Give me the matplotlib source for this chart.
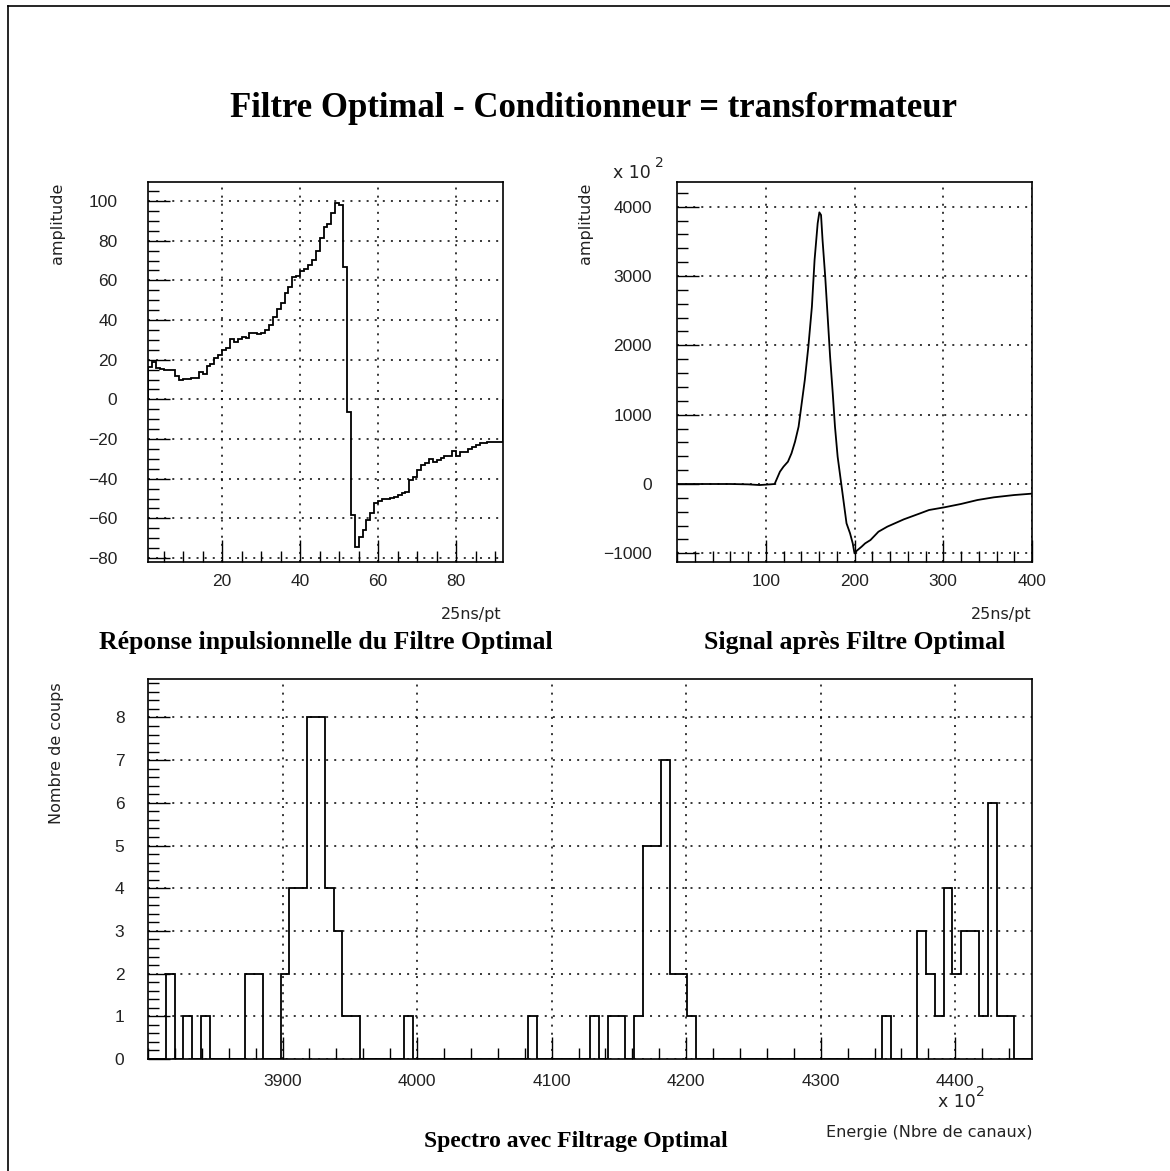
import numpy as np
import matplotlib.pyplot as plt
from matplotlib.ticker import MultipleLocator, FixedLocator
from matplotlib.lines import Line2D

# Reponse impulsionnelle : 91 canaux de 1 a 92
rep_vals = [16.5, 18.7, 16, 15.5, 14.8, 14.8, 14.8, 12, 9.8, 10.3,
            10.3, 11, 11, 14, 12.8, 16.8, 18, 20.7, 22.4, 25,
            25.7, 30.3, 29, 30.3, 31.3, 30.8, 33.6, 33.6, 32.8, 33.6,
            35, 37.5, 41.7, 45.4, 48.7, 53.4, 56.8, 61.8, 62.2, 64.7,
            65.5, 67.7, 70.3, 74.8, 81.2, 86.7, 88.4, 93.8, 98.8, 97.8,
            66.9, -6.2, -58.3, -74.3, -69.6, -65.9, -61, -57.5, -52.4, -51,
            -50.4, -50.4, -49.8, -49, -48.2, -47.4, -46.5, -40.7, -39, -35.6,
            -33, -32.3, -30.3, -31.4, -30.6, -29.7, -28.6, -28.6, -25.9, -28.6,
            -26.4, -26.4, -25.2, -23.9, -23, -22.2, -22.2, -21.3, -21.3, -21.7, -21.7]
rep_edges = np.arange(1, 93)

# Signal apres filtre (x 10^2)
sig_x = [0, 20, 40, 60, 80, 93, 105, 110, 116, 120, 125, 129, 133, 137, 140, 144,
         148, 152, 155, 158.5, 160.4, 162.3, 164, 167, 170, 172.5, 175.5, 178, 181,
         184.5, 187.5, 191, 195, 198, 200, 202.6, 208, 212, 218, 227, 237, 255.5,
         274, 284, 301, 320, 338.5, 357, 380, 400]
sig_y = [0, 0, 0, 0, -5, -15, -5, 0, 178, 250, 322, 442, 611, 827, 1115, 1500,
         1980, 2558, 3230, 3760, 3918, 3880, 3519, 2990, 2365, 1837, 1308, 827, 394,
         58, -231, -567, -712, -856, -1000, -962, -904, -856, -808, -688, -615, -510,
         -423, -375, -337, -288, -231, -192, -159, -139]

# Spectre : 100 canaux de 3800 a 4457 (x 10^2)
spec_counts = [0, 0, 2, 0, 1, 0, 1, 0, 0, 0, 0, 2, 2, 0, 0, 2, 4, 4, 8, 8,
               4, 3, 1, 1, 0, 0, 0, 0, 0, 1, 0, 0, 0, 0, 0, 0, 0, 0, 0, 0,
               0, 0, 0, 1, 0, 0, 0, 0, 0, 0, 1, 0, 1, 1, 0, 1, 5, 5, 7, 2,
               2, 1, 0, 0, 0, 0, 0, 0, 0, 0, 0, 0, 0, 0, 0, 0, 0, 0, 0, 0,
               0, 0, 0, 1, 0, 0, 0, 3, 2, 1, 4, 2, 3, 3, 1, 6, 1, 1, 0, 0]
spec_edges = np.linspace(3800, 4457, 101)

W, H = 1170, 1171
fig = plt.figure(figsize=(W / 100, H / 100), dpi=100)

LIGHT = dict(family='DejaVu Sans', fontsize=11.5, color='#222222')
TIMES = dict(family='Liberation Serif', fontweight='bold')


def rect(x0, y0, x1, y1):
    return [x0 / W, 1 - y1 / H, (x1 - x0) / W, (y1 - y0) / H]


def style(ax, ypad):
    ax.tick_params(which='major', direction='in', length=16, width=1, pad=ypad,
                   labelsize=12.5, labelcolor='#222222')
    ax.tick_params(which='minor', direction='in', length=8, width=1)
    ax.tick_params(axis='x', which='major', pad=9)
    ax.tick_params(top=False, right=False, which='both')
    ax.grid(True, which='major', color='black', linestyle=(0, (1.3, 4)), linewidth=1.1)
    for s in ax.spines.values():
        s.set_linewidth(1.2)
    for lab in ax.get_xticklabels() + ax.get_yticklabels():
        lab.set_family('Liberation Sans')


# --- haut gauche
ax1 = fig.add_axes(rect(148, 182, 503, 562))
ax1.stairs(rep_vals, rep_edges, color='black', linewidth=1.3)
ax1.set_xlim(1, 92)
ax1.set_ylim(-82, 109.6)
ax1.xaxis.set_major_locator(FixedLocator([20, 40, 60, 80]))
ax1.xaxis.set_minor_locator(MultipleLocator(5))
ax1.yaxis.set_major_locator(MultipleLocator(20))
ax1.yaxis.set_minor_locator(MultipleLocator(5))
style(ax1, 22)

# --- haut droite
ax2 = fig.add_axes(rect(677, 182, 1032, 562))
ax2.plot(sig_x, sig_y, color='black', linewidth=1.3)
ax2.set_xlim(0, 400)
ax2.set_ylim(-1125, 4356)
ax2.xaxis.set_major_locator(FixedLocator([100, 200, 300, 400]))
ax2.xaxis.set_minor_locator(MultipleLocator(20))
ax2.yaxis.set_major_locator(MultipleLocator(1000))
ax2.yaxis.set_minor_locator(MultipleLocator(200))
style(ax2, 18)

# --- bas
ax3 = fig.add_axes(rect(148, 679, 1032, 1059))
ax3.stairs(spec_counts, spec_edges, color='black', linewidth=1.3)
ax3.set_xlim(3800, 4457)
ax3.set_ylim(0, 8.9)
ax3.xaxis.set_major_locator(FixedLocator([3900, 4000, 4100, 4200, 4300, 4400]))
ax3.xaxis.set_minor_locator(MultipleLocator(20))
ax3.yaxis.set_major_locator(MultipleLocator(1))
ax3.yaxis.set_minor_locator(MultipleLocator(0.2))
style(ax3, 17)
ax3.tick_params(axis='x', which='major', pad=11)


def ftext(x, y, s, **kw):
    return fig.text(x / W, 1 - y / H, s, **kw)


# titres
ftext(594, 117, 'Filtre Optimal - Conditionneur = transformateur', ha='center',
      va='baseline', fontsize=25, **TIMES)
ftext(326, 649, 'Réponse inpulsionnelle du Filtre Optimal', ha='center',
      va='baseline', fontsize=18.5, **TIMES)
ftext(855, 649, 'Signal après Filtre Optimal', ha='center', va='baseline',
      fontsize=18.5, **TIMES)
ftext(576, 1147, 'Spectro avec Filtrage Optimal', ha='center', va='baseline',
      fontsize=17, **TIMES)

# libelles d'axes
ftext(58, 183, 'amplitude', rotation=90, ha='center', va='top', **LIGHT)
ftext(586, 183, 'amplitude', rotation=90, ha='center', va='top', **LIGHT)
ftext(56, 682, 'Nombre de coups', rotation=90, ha='center', va='top', **LIGHT)
ftext(502, 615, '25ns/pt', ha='right', va='center', **LIGHT)
ftext(1032, 615, '25ns/pt', ha='right', va='center', **LIGHT)
ftext(1032, 1132, 'Energie (Nbre de canaux)', ha='right', va='center', **LIGHT)

# facteurs d'echelle
ftext(613, 178, 'x 10', ha='left', va='baseline', family='DejaVu Sans',
      fontsize=12.5, color='#222222')
ftext(655, 167, '2', ha='left', va='baseline', family='DejaVu Sans', fontsize=10,
      color='#222222')
ftext(938, 1107, 'x 10', ha='left', va='baseline', family='DejaVu Sans',
      fontsize=12.5, color='#222222')
ftext(976, 1096, '2', ha='left', va='baseline', family='DejaVu Sans', fontsize=10,
      color='#222222')

# cadre de la page
fig.add_artist(Line2D([8 / W, 8 / W], [0, 1 - 6 / H], color='black', linewidth=1.2))
fig.add_artist(Line2D([8 / W, 1], [1 - 6 / H, 1 - 6 / H], color='black', linewidth=1.2))

fig.savefig('out.png', dpi=100)
